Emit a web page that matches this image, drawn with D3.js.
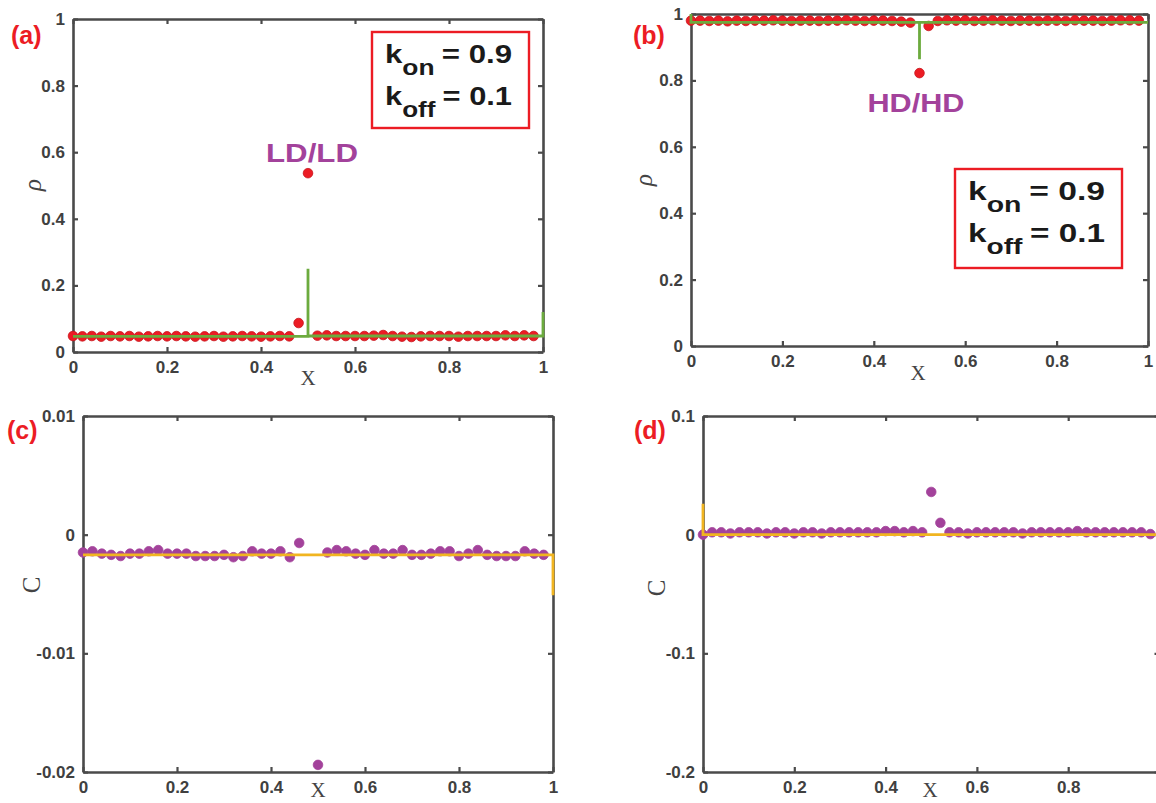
<!DOCTYPE html>
<html>
<head>
<meta charset="utf-8">
<script src="https://cdn.jsdelivr.net/npm/d3@7"></script>
<style>
  body { margin: 0; background: #fff; }
  svg { display: block; }
  .tick text { font-family: "Liberation Sans", Arial, sans-serif; font-weight: bold; font-size: 17px; fill: #404040; }
</style>
</head>
<body>
<svg id="fig" width="1156" height="803"></svg>
<script>
// lattice positions (same for all four panels)
const xGrid = [0, 0.02, 0.04, 0.06, 0.08, 0.1, 0.12, 0.14, 0.16, 0.18,
               0.2, 0.22, 0.24, 0.26, 0.28, 0.3, 0.32, 0.34, 0.36, 0.38,
               0.4, 0.42, 0.44, 0.46, 0.48, 0.5, 0.52, 0.54, 0.56, 0.58,
               0.6, 0.62, 0.64, 0.66, 0.68, 0.7, 0.72, 0.74, 0.76, 0.78,
               0.8, 0.82, 0.84, 0.86, 0.88, 0.9, 0.92, 0.94, 0.96, 0.98];

// (a) density, LD/LD
const rhoA = [0.048, 0.047, 0.048, 0.046, 0.048, 0.047, 0.048, 0.046, 0.047, 0.048,
              0.047, 0.048, 0.047, 0.046, 0.047, 0.048, 0.046, 0.047, 0.048, 0.047,
              0.046, 0.047, 0.048, 0.047, 0.087, 0.537, 0.049, 0.050, 0.048, 0.048,
              0.048, 0.048, 0.049, 0.051, 0.048, 0.046, 0.045, 0.047, 0.048, 0.048,
              0.048, 0.046, 0.048, 0.048, 0.048, 0.048, 0.050, 0.048, 0.050, 0.048];
const lineAX = [0, 0.5, 0.5, 0.5, 1, 1];
const lineAY = [0.047, 0.047, 0.25, 0.048, 0.048, 0.12];

// (b) density, HD/HD
const rhoB = [0.98, 0.98, 0.979, 0.98, 0.978, 0.98, 0.979, 0.98, 0.98, 0.981,
              0.98, 0.979, 0.98, 0.98, 0.979, 0.98, 0.98, 0.981, 0.98, 0.979,
              0.98, 0.98, 0.979, 0.977, 0.974, 0.822, 0.964, 0.979, 0.981, 0.98,
              0.981, 0.979, 0.98, 0.981, 0.98, 0.979, 0.98, 0.98, 0.979, 0.98,
              0.98, 0.979, 0.981, 0.98, 0.98, 0.979, 0.98, 0.981, 0.981, 0.98];
const lineBX = [0, 0, 0.5, 0.5, 0.5, 1];
const lineBY = [1.0, 0.975, 0.975, 0.864, 0.975, 0.975];

// (c) correlation, LD/LD  (no point at x = 0.48)
const corC = [-0.0015, -0.0014, -0.0016, -0.0017, -0.0018, -0.0016, -0.0016, -0.0014, -0.0013, -0.0016,
              -0.0016, -0.0016, -0.0018, -0.0018, -0.0018, -0.0017, -0.0019, -0.0018, -0.0014, -0.0016,
              -0.0016, -0.0014, -0.0019, -0.0007, null, -0.0194, -0.0015, -0.0013, -0.0014, -0.0016,
              -0.0017, -0.0013, -0.0016, -0.0016, -0.0013, -0.0017, -0.0017, -0.0016, -0.0014, -0.0014,
              -0.0018, -0.0016, -0.0013, -0.0017, -0.0018, -0.0018, -0.0018, -0.0014, -0.0016, -0.0017];
const lineCX = [0, 1, 1];
const lineCY = [-0.0017, -0.0017, -0.0051];

// (d) correlation, HD/HD
const corD = [0.000, 0.002, 0.002, 0.001, 0.002, 0.002, 0.002, 0.001, 0.002, 0.002,
              0.001, 0.002, 0.002, 0.001, 0.002, 0.002, 0.002, 0.002, 0.002, 0.002,
              0.003, 0.003, 0.002, 0.003, 0.002, 0.036, 0.010, 0.002, 0.002, 0.001,
              0.002, 0.002, 0.002, 0.002, 0.002, 0.001, 0.002, 0.002, 0.002, 0.002,
              0.002, 0.003, 0.002, 0.002, 0.002, 0.002, 0.002, 0.002, 0.002, 0.0005];
const lineDX = [0, 0, 1];
const lineDY = [0.026, 0, 0];

const xTicks = [0, 0.2, 0.4, 0.6, 0.8, 1];
const xTicksD = [0, 0.2, 0.4, 0.6, 0.8];
const rhoTicks = [0, 0.2, 0.4, 0.6, 0.8, 1];
const cTicks = [-0.02, -0.01, 0, 0.01];
const cTicksD = [-0.2, -0.1, 0, 0.1];

const RED = "#ec1c24", PURPLE = "#a3429b", GREEN = "#6cab3e", ORANGE = "#f1b520", AXIS = "#4a4a4a";

const svg = d3.select("#fig");

function fmt(d) { return String(+d.toFixed(3)); }

function panel(p) {
  const x = d3.scaleLinear().domain([0, 1]).range(p.xr);
  const y = d3.scaleLinear().domain(p.yd).range(p.yr);
  const g = svg.append("g");

  const y0 = p.yr[0], y1 = p.yr[1];
  const axes = [
    [d3.axisBottom(x).tickValues(p.xt).tickFormat(fmt), `translate(0,${y0})`],
    [d3.axisTop(x).tickValues(p.xt).tickFormat(""), `translate(0,${y1})`],
    [d3.axisLeft(y).tickValues(p.yt).tickFormat(fmt), `translate(${p.xr[0]},0)`],
    [d3.axisRight(y).tickValues(p.yt).tickFormat(""), `translate(${p.xr[1]},0)`]
  ];
  axes.forEach(([ax, tr], k) => {
    ax.tickSizeInner(-5).tickSizeOuter(0).tickPadding(k === 0 ? 9 : 8);
    const a = g.append("g").attr("transform", tr).call(ax);
    a.select(".domain").attr("stroke", AXIS).attr("stroke-width", 2.6);
    a.selectAll(".tick line").attr("stroke", AXIS).attr("stroke-width", 2.2);
  });

  // data points, then the line on top (also over the frame, like the original)
  g.selectAll("circle").data(xGrid.map((v, i) => [v, p.dots[i]]).filter(d => d[1] !== null))
    .join("circle")
    .attr("cx", d => x(d[0])).attr("cy", d => y(d[1])).attr("r", 4.8)
    .attr("fill", p.dotColor).attr("stroke", p.dotEdge).attr("stroke-width", 0.8);

  g.append("path").datum(p.lx.map((v, i) => [v, p.ly[i]]))
    .attr("d", d3.line().x(d => x(d[0])).y(d => y(d[1])))
    .attr("fill", "none").attr("stroke", p.lineColor).attr("stroke-width", 2.8);

  // axis titles
  g.append("text").attr("x", p.xLab[0]).attr("y", p.xLab[1]).attr("text-anchor", "middle")
    .attr("font-family", "Liberation Serif, serif").attr("font-size", 21).attr("fill", "#444").text("X");
  g.append("text").attr("transform", `translate(${p.yLab[0]},${p.yLab[1]}) rotate(-90)`)
    .attr("text-anchor", "middle").attr("dy", "0.3em")
    .attr("font-family", "Liberation Serif, serif").attr("font-style", p.yItalic ? "italic" : "normal")
    .attr("font-size", 25).attr("fill", "#444").text(p.yName);

  // panel tag
  g.append("text").attr("x", p.tag[0]).attr("y", p.tag[1])
    .attr("font-family", "Liberation Sans, Arial, sans-serif").attr("font-weight", "bold")
    .attr("font-size", 25).attr("fill", RED).text(p.tagText);

  if (p.phase) {
    g.append("text").attr("x", p.phase[0]).attr("y", p.phase[1]).attr("text-anchor", "middle")
      .attr("font-family", "Liberation Sans, Arial, sans-serif").attr("font-weight", "bold")
      .attr("font-size", 26).attr("fill", PURPLE)
      .attr("textLength", p.phase[3]).attr("lengthAdjust", "spacingAndGlyphs").text(p.phase[2]);
  }

  if (p.box) {
    const [bx, by, bw, bh] = p.box;
    g.append("rect").attr("x", bx).attr("y", by).attr("width", bw).attr("height", bh)
      .attr("fill", "#fff").attr("stroke", RED).attr("stroke-width", 2.4);
    const rows = [["on", "= 0.9", 31], ["off", "= 0.1", 73]];
    rows.forEach(([sub, val, dy]) => {
      const t = g.append("text").attr("x", bx + 13).attr("y", by + dy)
        .attr("font-family", "Liberation Sans, Arial, sans-serif").attr("font-weight", "bold")
        .attr("font-size", 26).attr("fill", "#1a1a1a")
        .attr("textLength", bw - 30).attr("lengthAdjust", "spacingAndGlyphs");
      t.append("tspan").text("k");
      t.append("tspan").attr("dy", 12).attr("font-size", 22).text(sub);
      t.append("tspan").attr("dy", -12).attr("dx", 6).text(val);
    });
  }
}

panel({ xr: [73, 543], yr: [352, 19], yd: [0, 1], xt: xTicks, yt: rhoTicks,
  dots: rhoA, dotColor: RED, dotEdge: "#c8141c", lx: lineAX, ly: lineAY, lineColor: GREEN,
  xLab: [308, 385], yLab: [33, 185], yName: "ρ", yItalic: true, tag: [11, 44], tagText: "(a)",
  phase: [312, 162, "LD/LD", 92], box: [372, 32, 157, 96] });

panel({ xr: [691, 1148], yr: [346, 14], yd: [0, 1], xt: xTicks, yt: rhoTicks,
  dots: rhoB, dotColor: RED, dotEdge: "#c8141c", lx: lineBX, ly: lineBY, lineColor: GREEN,
  xLab: [918, 380], yLab: [644, 180], yName: "ρ", yItalic: true, tag: [633, 44], tagText: "(b)",
  phase: [916, 112, "HD/HD", 97], box: [955, 169, 167, 99] });

panel({ xr: [83, 553], yr: [772, 416], yd: [-0.02, 0.01], xt: xTicks, yt: cTicks,
  dots: corC, dotColor: PURPLE, dotEdge: PURPLE, lx: lineCX, ly: lineCY, lineColor: ORANGE,
  xLab: [318, 797], yLab: [32, 585], yName: "C", yItalic: false, tag: [7, 439], tagText: "(c)" });

panel({ xr: [703, 1159.5], yr: [772, 416], yd: [-0.2, 0.1], xt: xTicksD, yt: cTicksD,
  dots: corD, dotColor: PURPLE, dotEdge: PURPLE, lx: lineDX, ly: lineDY, lineColor: ORANGE,
  xLab: [930, 797], yLab: [657, 588], yName: "C", yItalic: false, tag: [634, 439], tagText: "(d)" });
</script>
</body>
</html>
